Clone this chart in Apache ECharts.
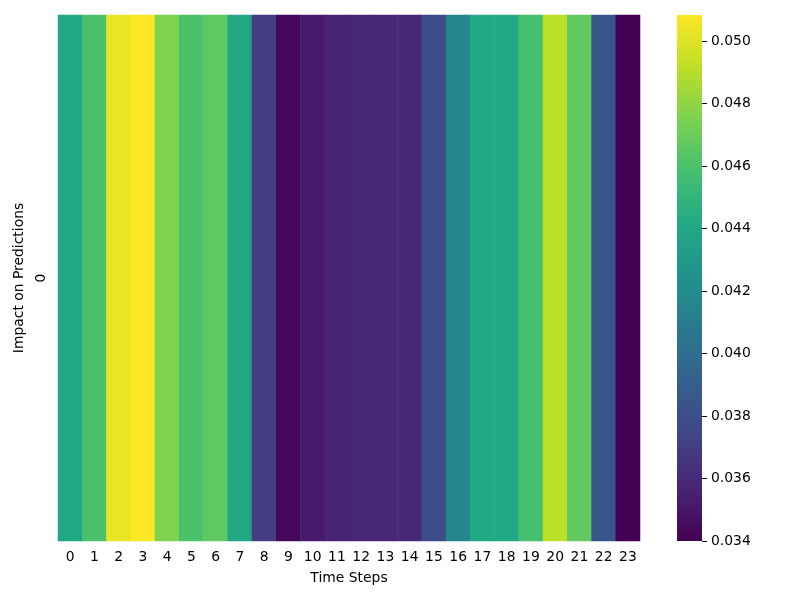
<!DOCTYPE html>
<html>
<head>
<meta charset="utf-8">
<script src="https://cdn.jsdelivr.net/npm/echarts@6/dist/echarts.min.js"></script>
<style>
    html, body { margin: 0; padding: 0; background: #fff; }
    #chart { width: 800px; height: 600px; }
</style>
</head>
<body>
<div id="chart"></div>
<script>
    // time steps along x, a single row on y
    var timeSteps = ['0','1','2','3','4','5','6','7','8','9','10','11','12','13','14','15','16','17','18','19','20','21','22','23'];
    var rows = ['0'];
    var impact = [0.0440, 0.0460, 0.0503, 0.0508, 0.0476, 0.0460, 0.0466, 0.0440,
                  0.0370, 0.0343, 0.0352, 0.0357, 0.0358, 0.0358, 0.0359, 0.0379,
                  0.0416, 0.0441, 0.0441, 0.0458, 0.0491, 0.0467, 0.0385, 0.0340];
    var colorMin = 0.0340;
    var colorMax = 0.05083;

    var viridis = ['#440154','#482475','#414487','#355f8d','#2a788e','#21918c',
                   '#22a884','#44bf70','#7ad151','#bddf26','#fde725'];

    var cells = [];
    for (var i = 0; i < impact.length; i++) {
        cells.push([i, 0, impact[i]]);
    }

    // gradient for the colour bar, top = max
    var stops = viridis.map(function (c, k) {
        return { offset: 1 - k / (viridis.length - 1), color: c };
    }).reverse();

    var chart = echarts.init(document.getElementById('chart'));
    var font = 'DejaVu Sans';
    var fs = 13.9;
    chart.setOption({
        animation: false,
        textStyle: { fontFamily: font },
        grid: [
            { left: 58, top: 15, width: 582, height: 526 },
            { left: 677, top: 15, width: 25, height: 526 }
        ],
        xAxis: [
            {
                type: 'category', gridIndex: 0, data: timeSteps,
                name: 'Time Steps', nameLocation: 'middle', nameGap: 30,
                nameTextStyle: { color: '#000', fontSize: fs, fontFamily: font },
                axisLine: { show: false },
                axisTick: { alignWithLabel: true, length: 5, lineStyle: { color: '#000' } },
                axisLabel: { color: '#000', fontSize: fs, margin: 9 },
                splitLine: { show: false }
            },
            { type: 'category', gridIndex: 1, data: ['cb'], show: false }
        ],
        yAxis: [
            {
                type: 'category', gridIndex: 0, data: rows,
                name: 'Impact on Predictions', nameLocation: 'middle', nameGap: 31,
                nameTextStyle: { color: '#000', fontSize: fs, fontFamily: font },
                axisLine: { show: false },
                axisTick: { alignWithLabel: true, length: 5, lineStyle: { color: '#000' } },
                axisLabel: { color: '#000', fontSize: fs, rotate: 90, margin: 10 },
                splitLine: { show: false }
            },
            {
                type: 'value', gridIndex: 1, position: 'right',
                min: colorMin, max: colorMax, interval: 0.002,
                axisLine: { show: false },
                axisTick: { show: true, length: 5, lineStyle: { color: '#000' } },
                axisLabel: {
                    color: '#000', fontSize: fs, margin: 9,
                    showMaxLabel: false,
                    formatter: function (v) { return v.toFixed(3); }
                },
                splitLine: { show: false }
            }
        ],
        visualMap: {
            type: 'continuous',
            seriesIndex: 0,
            min: colorMin, max: colorMax,
            show: false,
            inRange: { color: viridis }
        },
        series: [
            {
                type: 'heatmap',
                xAxisIndex: 0, yAxisIndex: 0,
                data: cells,
                itemStyle: { borderWidth: 0 },
                emphasis: { disabled: true }
            },
            {
                type: 'bar',
                xAxisIndex: 1, yAxisIndex: 1,
                data: [colorMax],
                barWidth: '100%',
                silent: true,
                itemStyle: {
                    color: new echarts.graphic.LinearGradient(0, 0, 0, 1, stops)
                }
            }
        ]
    });
</script>
</body>
</html>
